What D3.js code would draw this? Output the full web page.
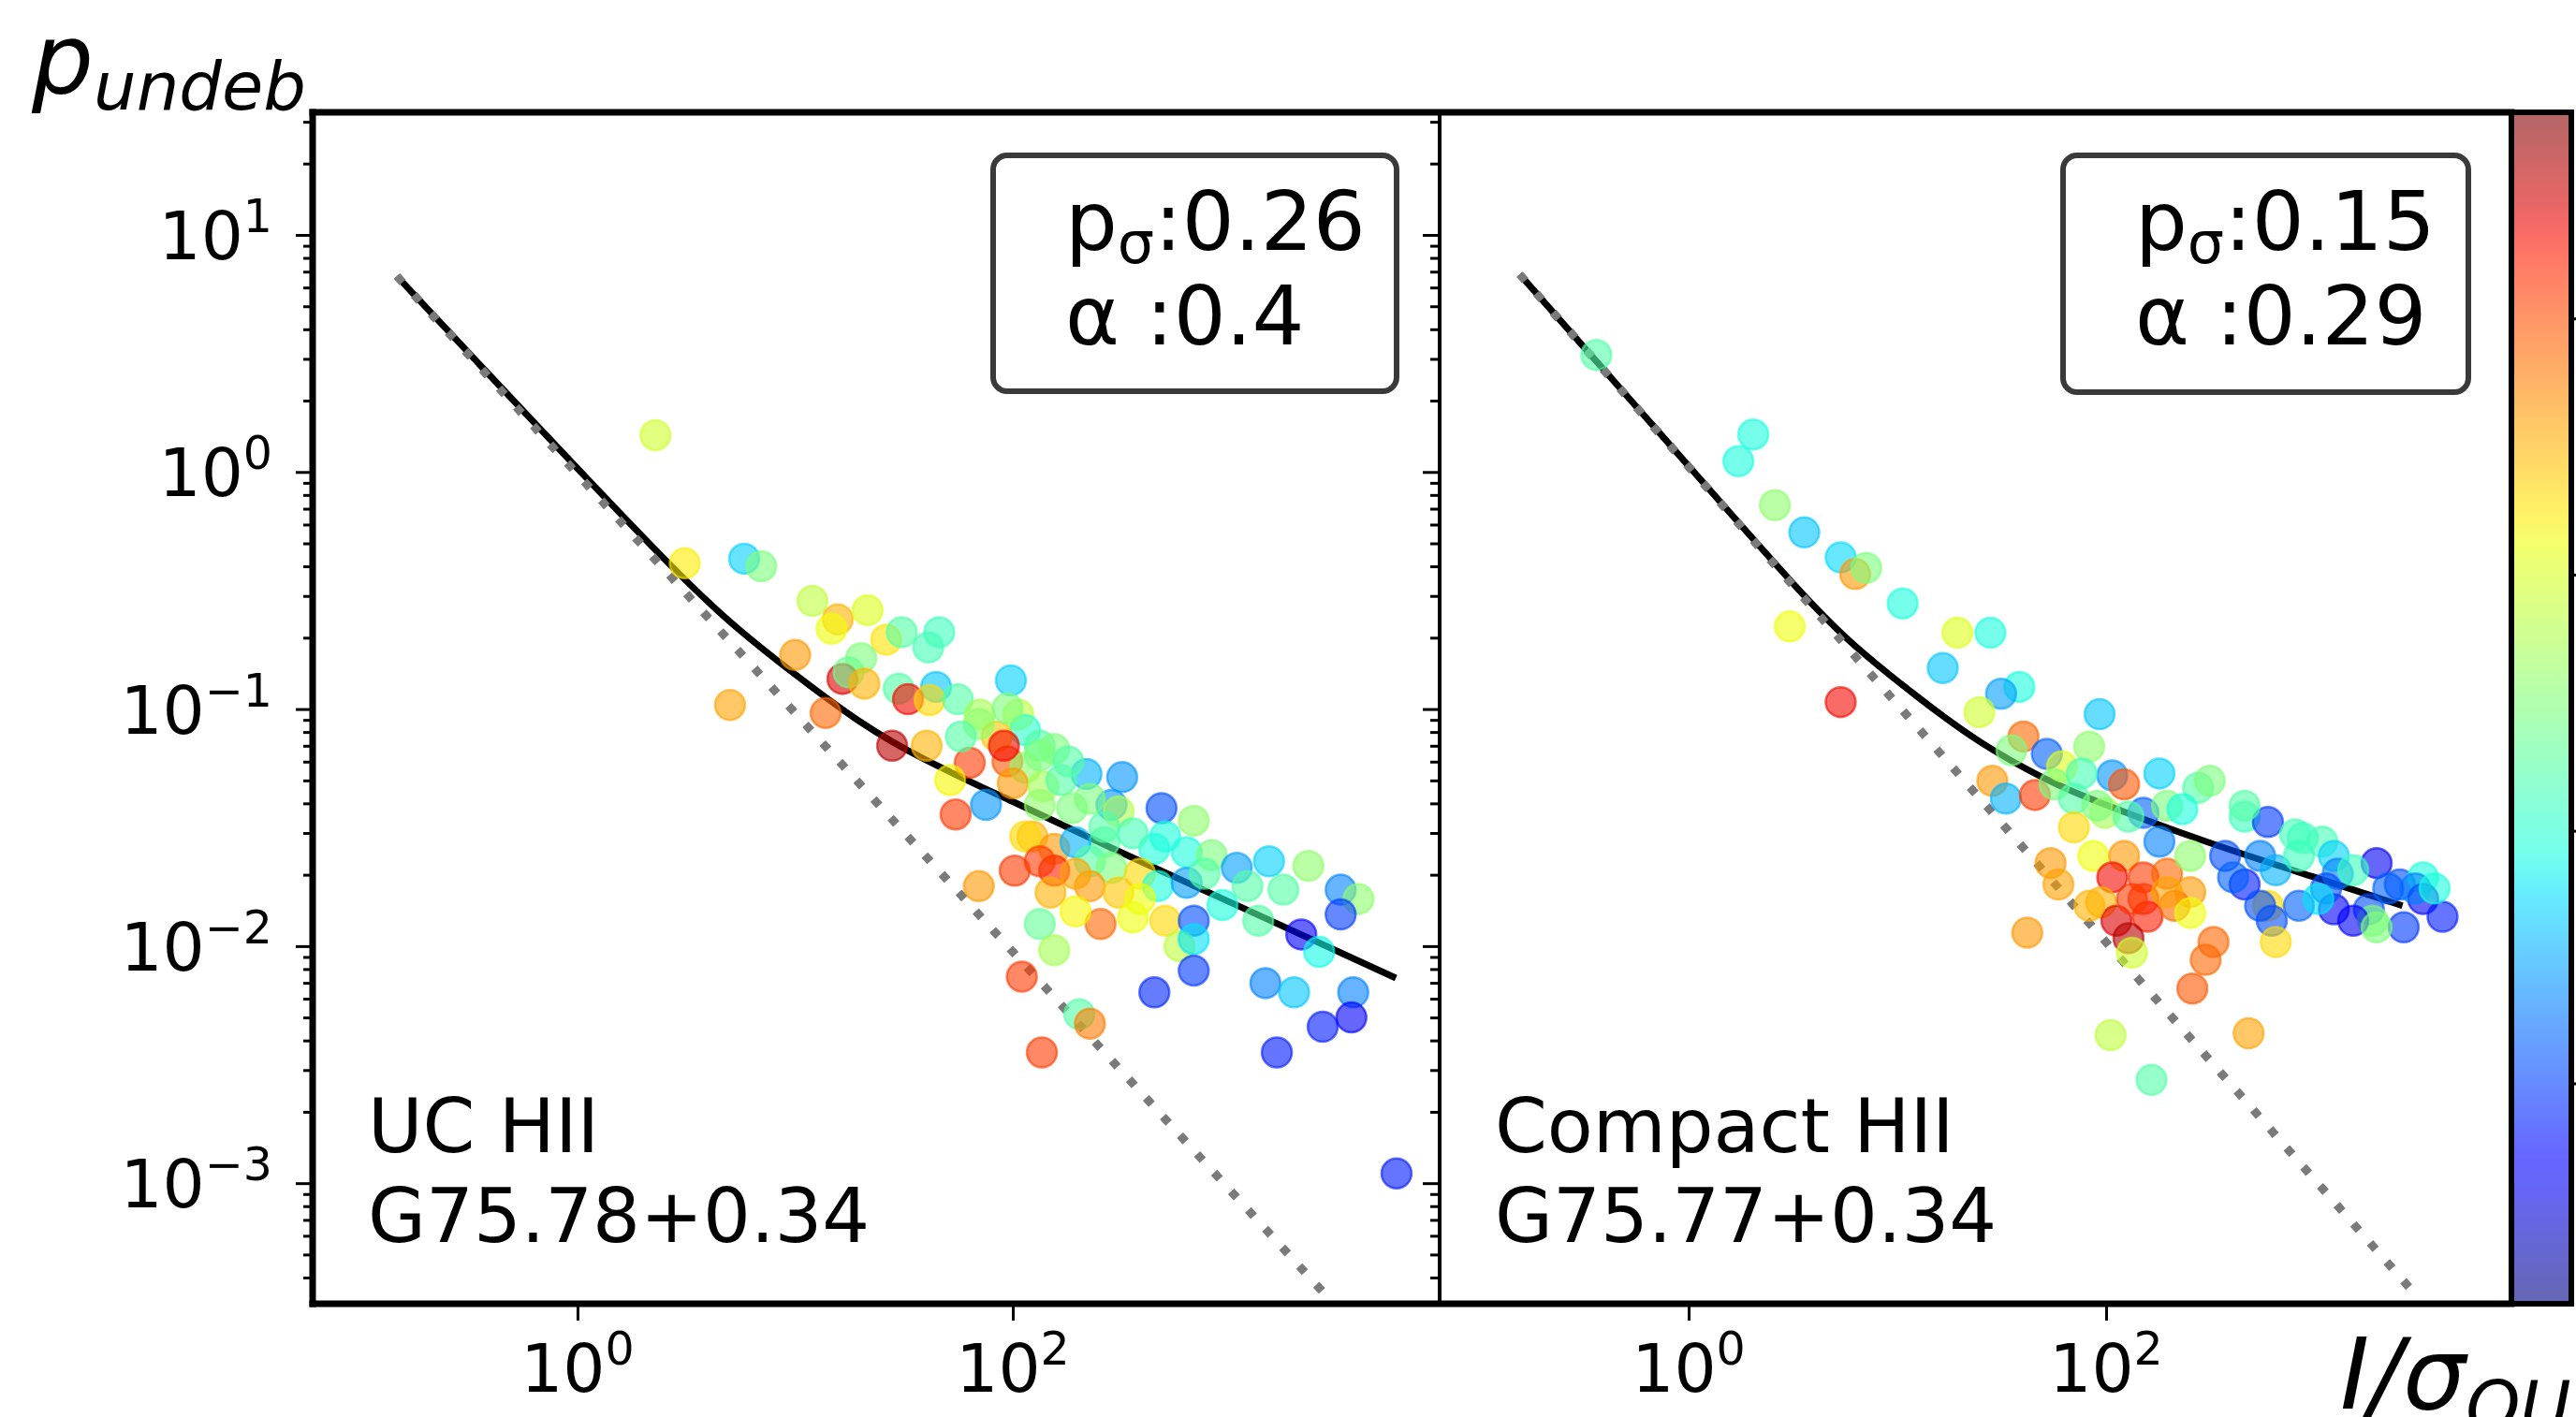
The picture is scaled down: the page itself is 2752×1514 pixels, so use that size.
<!DOCTYPE html>
<html lang="en">
<head>
<meta charset="UTF-8">
<title>p_undeb vs I/sigma_QU</title>
<script src="https://cdn.jsdelivr.net/npm/d3@7"></script>
<style>
  body { margin: 0; background: #fff; }
  text { font-family: "DejaVu Sans", sans-serif; fill: #000; }
</style>
</head>
<body>
<svg id="main" width="2752" height="1514"></svg>
<script>
// ---- data ----
// left panel: UC HII
const leftX = [2.28, 3.11, 5.83, 6.99, 12.0, 15.7, 14.7, 21.5, 26.2, 30.9, 45.9, 40.9, 10.0, 20.1, 16.5, 17.6, 20.8, 5.02, 13.8, 29.9,
  44.4, 33.0, 41.5, 55.9, 70.5, 27.9, 40.2, 98.0, 106, 114, 84.3, 63.4, 94.5, 133, 155, 114, 100, 138, 218, 318,
  167, 51.5, 75.3, 54.6, 284, 482, 187, 133, 678, 123, 155, 263, 194, 447, 629, 820, 1069, 1503, 2280, 102,
  155, 69.8, 226, 284, 384, 149, 226, 306, 464, 629, 1197, 1750, 3208, 3873, 919, 3208, 133, 253, 194, 356,
  501, 678, 1342, 2115, 2555, 155, 583, 678, 110, 678, 447, 1447, 1960, 3664, 202, 226, 2653, 3594, 136, 1633, 5792,
  91.0, 133, 180, 226, 306, 263, 114, 133, 194, 384, 356, 501, 760, 94.5, 69.8, 57.7];
const leftY = [1.43, 0.412, 0.431, 0.400, 0.286, 0.239, 0.218, 0.261, 0.196, 0.211, 0.211, 0.182, 0.169, 0.164, 0.134, 0.143, 0.128, 0.104, 0.0962, 0.122,
  0.124, 0.110, 0.109, 0.110, 0.0948, 0.0700, 0.0700, 0.132, 0.0948, 0.0815, 0.0766, 0.0593, 0.0601, 0.0700, 0.0679, 0.0566, 0.0486, 0.0472, 0.0532, 0.0516,
  0.0501, 0.0501, 0.0394, 0.0359, 0.0394, 0.0382, 0.0382, 0.0394, 0.0338, 0.0290, 0.0257, 0.0274, 0.0274, 0.0257, 0.0249, 0.0242, 0.0214, 0.0228, 0.0218, 0.0208,
  0.0208, 0.0179, 0.0228, 0.0214, 0.0202, 0.0168, 0.0179, 0.0168, 0.0179, 0.0185, 0.0179, 0.0173, 0.0173, 0.0158, 0.0149, 0.0136, 0.0124, 0.0124, 0.0140, 0.0132,
  0.0128, 0.0128, 0.0128, 0.0112, 0.00946, 0.00961, 0.0100, 0.0107, 0.00743, 0.00789, 0.00638, 0.00698, 0.00638, 0.00638, 0.00516, 0.00471, 0.00457, 0.00500, 0.00356, 0.00356, 0.00110,
  0.0700, 0.0638, 0.0601, 0.0418, 0.0370, 0.0318, 0.0290, 0.0228, 0.0202, 0.0158, 0.0299, 0.0290, 0.0202, 0.1007, 0.0865, 0.0766];
const leftC = [0.60, 0.66, 0.33, 0.50, 0.58, 0.72, 0.64, 0.62, 0.67, 0.45, 0.42, 0.43, 0.75, 0.50, 0.92, 0.48, 0.72, 0.74, 0.80, 0.45,
  0.32, 0.90, 0.68, 0.45, 0.55, 0.95, 0.72, 0.33, 0.58, 0.40, 0.70, 0.85, 0.82, 0.45, 0.50, 0.52, 0.75, 0.55, 0.30, 0.27,
  0.45, 0.65, 0.27, 0.85, 0.27, 0.20, 0.50, 0.52, 0.52, 0.72, 0.75, 0.45, 0.30, 0.38, 0.38, 0.50, 0.28, 0.33, 0.52, 0.85,
  0.88, 0.75, 0.45, 0.50, 0.68, 0.72, 0.75, 0.70, 0.38, 0.28, 0.45, 0.45, 0.25, 0.52, 0.38, 0.18, 0.47, 0.80, 0.65, 0.64,
  0.68, 0.20, 0.45, 0.12, 0.37, 0.55, 0.58, 0.35, 0.85, 0.18, 0.16, 0.25, 0.32, 0.25, 0.45, 0.78, 0.15, 0.12, 0.85, 0.15, 0.15,
  0.90, 0.50, 0.45, 0.50, 0.56, 0.45, 0.68, 0.85, 0.74, 0.64, 0.43, 0.38, 0.45, 0.50, 0.52, 0.45];

// right panel: Compact HII
const rightX = [0.361, 2.04, 1.73, 2.59, 3.58, 5.35, 6.28, 7.09, 10.6, 3.05, 19.4, 27.9, 16.5, 5.35, 38.4, 31.4, 24.7, 93.1, 40.2, 35.2,
  52.0, 83.0, 61.5, 28.5, 33.1, 45.6, 56.6, 70.1, 107, 122, 98.8, 151, 180, 196, 276, 314, 70.1, 86.8, 180, 122,
  107, 151, 196, 253, 54.2, 59.1, 94.6, 151, 158, 213, 112, 128, 133, 253, 327, 300, 259, 41.9, 105, 482,
  165, 372, 461, 596, 547, 650, 461, 805, 1086, 596, 622, 650, 839, 1234, 1288, 1234, 1132, 1977, 1815, 1892,
  2553, 3304, 2667, 3304, 4093, 3033, 406, 875,
  76.4, 90.6, 128, 232, 253, 196, 133, 83.2, 839, 1528, 2249, 3750, 1040, 547, 1528, 1977, 461];
const rightY = [3.12, 1.44, 1.11, 0.724, 0.556, 0.436, 0.371, 0.394, 0.279, 0.223, 0.210, 0.210, 0.149, 0.107, 0.124, 0.116, 0.0970, 0.0951, 0.0766, 0.0670,
  0.0647, 0.0694, 0.0573, 0.0498, 0.0419, 0.0434, 0.0481, 0.0419, 0.0525, 0.0481, 0.0365, 0.0365, 0.0535, 0.0391, 0.0465, 0.0498, 0.0317, 0.0240, 0.0276, 0.0240,
  0.0195, 0.0195, 0.0202, 0.0169, 0.0224, 0.0182, 0.0153, 0.0158, 0.0133, 0.0148, 0.0128, 0.0108, 0.00938, 0.0138, 0.0104, 0.00875, 0.00662, 0.0114, 0.00421, 0.00429,
  0.00273, 0.0240, 0.0352, 0.0334, 0.0240, 0.0209, 0.0182, 0.0296, 0.0276, 0.0148, 0.0128, 0.0104, 0.0148, 0.0240, 0.0202, 0.0143, 0.0175, 0.0224, 0.0143, 0.0128,
  0.0182, 0.0195, 0.0120, 0.0158, 0.0133, 0.0175, 0.0195, 0.0286,
  0.0535, 0.0391, 0.0352, 0.0378, 0.0240, 0.0169, 0.0158, 0.0148, 0.0240, 0.0209, 0.0175, 0.0175, 0.0158, 0.0148, 0.0128, 0.0120, 0.0391];
const rightC = [0.45, 0.38, 0.38, 0.52, 0.32, 0.34, 0.75, 0.50, 0.38, 0.64, 0.62, 0.38, 0.32, 0.90, 0.38, 0.28, 0.60, 0.32, 0.80, 0.50,
  0.22, 0.52, 0.62, 0.75, 0.30, 0.85, 0.50, 0.45, 0.27, 0.82, 0.55, 0.22, 0.33, 0.50, 0.45, 0.50, 0.68, 0.64, 0.25, 0.75,
  0.90, 0.85, 0.80, 0.75, 0.75, 0.74, 0.72, 0.85, 0.88, 0.80, 0.92, 0.95, 0.60, 0.64, 0.80, 0.80, 0.82, 0.75, 0.58, 0.74,
  0.45, 0.20, 0.42, 0.18, 0.25, 0.30, 0.15, 0.43, 0.43, 0.68, 0.20, 0.68, 0.22, 0.33, 0.25, 0.12, 0.20, 0.10, 0.20, 0.50,
  0.20, 0.38, 0.18, 0.10, 0.15, 0.25, 0.22, 0.42,
  0.43, 0.50, 0.45, 0.38, 0.52, 0.74, 0.85, 0.72, 0.42, 0.42, 0.22, 0.38, 0.35, 0.20, 0.12, 0.50, 0.45];

// fitted curves and the 1/x reference line
const leftFitX = [0.148, 0.398, 1.0, 2.51, 5.01, 10.0, 20.0, 39.8, 100, 316, 1000, 3162, 5754];
const leftFitY = [6.70, 2.54, 1.035, 0.429, 0.234, 0.140, 0.0881, 0.0610, 0.0407, 0.0248, 0.0153, 0.00944, 0.00733];
const rightFitX = [0.155, 0.398, 1.0, 3.16, 6.31, 12.6, 25.1, 50.1, 100, 316, 1000, 2630];
const rightFitY = [6.82, 2.66, 1.06, 0.339, 0.184, 0.112, 0.0724, 0.0513, 0.0394, 0.0272, 0.0195, 0.0148];
const leftRefX = [0.148, 3076], leftRefY = [6.70, 0.000300];
const rightRefX = [0.155, 2958], rightRefY = [6.82, 0.000348];

const labels = [['UC HII', 'G75.78+0.34'], ['Compact HII', 'G75.77+0.34']];
const pSigma = ['0.26', '0.15'];
const alphaFit = ['0.4', '0.29'];
const yTickExp = [1, 0, -1, -2, -3];
const xTickExp = [0, 2];
const cbarTicks = [0.185, 0.397, 0.612, 0.827];

// ---- drawing ----
const svg = d3.select('svg#main');
const plotTop = 120, plotBottom = 1393;
const cbX = 2683, cbW = 64;

const y = d3.scaleLog().domain([3.10e-4, 32.9]).range([plotBottom, plotTop]);

// matplotlib jet
const jr = d3.scaleLinear().domain([0, 0.35, 0.66, 0.89, 1]).range([0, 0, 1, 1, 0.5]).clamp(true);
const jg = d3.scaleLinear().domain([0, 0.125, 0.375, 0.64, 0.91, 1]).range([0, 0, 1, 1, 0, 0]).clamp(true);
const jb = d3.scaleLinear().domain([0, 0.11, 0.34, 0.65, 1]).range([0.5, 1, 1, 0, 0]).clamp(true);
const jet = v => d3.rgb(jr(v) * 255, jg(v) * 255, jb(v) * 255).formatHex();

const panels = [
  {x0: 334, x1: 1538, dom: [0.0607, 9140], px: leftX, py: leftY, pc: leftC,
   fx: leftFitX, fy: leftFitY, rx: leftRefX, ry: leftRefY, box: [1061, 166, 431, 252]},
  {x0: 1538, x1: cbX, dom: [0.0641, 8750], px: rightX, py: rightY, pc: rightC,
   fx: rightFitX, fy: rightFitY, rx: rightRefX, ry: rightRefY, box: [2204, 166, 433, 253]}
];

const defs = svg.append('defs');

function supLabel(g, x, yb, exp, anchor) {
  const t = g.append('text').attr('x', x).attr('y', yb)
    .attr('text-anchor', anchor).attr('font-size', 71);
  t.append('tspan').text('10');
  t.append('tspan').attr('dy', -29).attr('font-size', 49)
    .text(exp < 0 ? '\u2212' + (-exp) : String(exp));
}

const yMinor = y.ticks().filter(v => Math.abs(Math.log10(v) - Math.round(Math.log10(v))) > 1e-6);
const yMajor = yTickExp.map(e => Math.pow(10, e));

panels.forEach((p, i) => {
  const x = d3.scaleLog().domain(p.dom).range([p.x0, p.x1]);
  const g = svg.append('g');

  defs.append('clipPath').attr('id', 'clip' + i)
    .append('rect').attr('x', p.x0).attr('y', plotTop)
    .attr('width', p.x1 - p.x0).attr('height', plotBottom - plotTop);
  const plot = g.append('g').attr('clip-path', 'url(#clip' + i + ')');

  plot.append('path')
    .attr('d', d3.line().x(d => x(d[0])).y(d => y(d[1])).curve(d3.curveNatural)(d3.zip(p.fx, p.fy)))
    .attr('fill', 'none').attr('stroke', '#000').attr('stroke-width', 7);
  plot.append('path')
    .attr('d', d3.line().x(d => x(d[0])).y(d => y(d[1]))(d3.zip(p.rx, p.ry)))
    .attr('fill', 'none').attr('stroke', '#7a7a7a').attr('stroke-width', 9)
    .attr('stroke-dasharray', '9 18');

  plot.selectAll('circle').data(d3.range(p.px.length)).enter().append('circle')
    .attr('cx', k => x(p.px[k])).attr('cy', k => y(p.py[k])).attr('r', 16)
    .attr('fill', k => jet(p.pc[k])).attr('fill-opacity', 0.6)
    .attr('stroke', k => jet(p.pc[k])).attr('stroke-opacity', 0.6).attr('stroke-width', 2.5);

  // y ticks (pointing outward from the left spine)
  const yMaj = g.append('g').attr('transform', `translate(${p.x0},0)`)
    .call(d3.axisLeft(y).tickValues(yMajor).tickSize(18).tickFormat(''));
  const yMin = g.append('g').attr('transform', `translate(${p.x0},0)`)
    .call(d3.axisLeft(y).tickValues(yMinor).tickSize(10).tickFormat(''));
  const xAx = g.append('g').attr('transform', `translate(0,${plotBottom})`)
    .call(d3.axisBottom(x).tickValues(xTickExp.map(e => Math.pow(10, e))).tickSize(18).tickFormat(''));
  [yMaj, yMin, xAx].forEach(a => {
    a.select('.domain').remove();
    a.selectAll('line').attr('stroke', '#000').attr('stroke-width', 3);
  });

  xTickExp.forEach(e => supLabel(g, x(Math.pow(10, e)), 1487, e, 'middle'));
  if (i === 0) yTickExp.forEach(e => supLabel(g, 291, y(Math.pow(10, e)) + 26, e, 'end'));

  // source labels
  g.append('text').attr('x', p.x0 + 59).attr('y', 1231).attr('font-size', 80).text(labels[i][0]);
  g.append('text').attr('x', p.x0 + 59).attr('y', 1327).attr('font-size', 80).text(labels[i][1]);

  // fit parameter box
  const [bx, by, bw, bh] = p.box;
  g.append('rect').attr('x', bx).attr('y', by).attr('width', bw).attr('height', bh)
    .attr('rx', 15).attr('fill', '#fff').attr('stroke', '#3a3a3a').attr('stroke-width', 6);
  const t1 = g.append('text').attr('x', bx + 77).attr('y', by + 101).attr('font-size', 88);
  t1.append('tspan').text('p');
  t1.append('tspan').attr('dy', 14).attr('font-size', 62).text('\u03c3');
  t1.append('tspan').attr('dy', -14).text(':' + pSigma[i]);
  g.append('text').attr('x', bx + 77).attr('y', by + 202).attr('font-size', 88)
    .text('\u03b1 :' + alphaFit[i]);
});

// frame
const frame = svg.append('g').attr('stroke', '#000').attr('stroke-linecap', 'square');
frame.append('line').attr('x1', 334).attr('x2', cbX).attr('y1', plotTop).attr('y2', plotTop).attr('stroke-width', 7);
frame.append('line').attr('x1', 334).attr('x2', cbX).attr('y1', plotBottom).attr('y2', plotBottom).attr('stroke-width', 7);
frame.append('line').attr('x1', 334).attr('x2', 334).attr('y1', plotTop).attr('y2', plotBottom).attr('stroke-width', 7);
frame.append('line').attr('x1', 1538).attr('x2', 1538).attr('y1', plotTop).attr('y2', plotBottom).attr('stroke-width', 4);

// colour bar
const grad = defs.append('linearGradient').attr('id', 'jetGrad')
  .attr('x1', 0).attr('y1', 1).attr('x2', 0).attr('y2', 0);
d3.range(0, 1.0001, 0.02).forEach(t => grad.append('stop')
  .attr('offset', t).attr('stop-color', jet(t)).attr('stop-opacity', 0.6));
const cScale = d3.scaleLinear().domain([0, 1]).range([plotBottom, plotTop]);
svg.append('rect').attr('x', cbX).attr('y', plotTop).attr('width', cbW).attr('height', plotBottom - plotTop)
  .attr('fill', 'url(#jetGrad)').attr('stroke', '#000').attr('stroke-width', 6);
svg.append('g').attr('transform', `translate(${cbX + cbW},0)`)
  .call(d3.axisRight(cScale).tickValues(cbarTicks).tickSize(16).tickFormat(''))
  .call(a => a.select('.domain').remove())
  .selectAll('line').attr('stroke', '#000').attr('stroke-width', 3);

// axis labels
const yl = svg.append('text').attr('x', 34).attr('y', 100).attr('font-size', 104).attr('font-style', 'italic');
yl.append('tspan').text('p');
yl.append('tspan').attr('dy', 17).attr('font-size', 72).text('undeb');

const xl = svg.append('text').attr('x', 2500).attr('y', 1505).attr('font-size', 106).attr('font-style', 'italic');
xl.append('tspan').text('I/\u03c3');
xl.append('tspan').attr('dy', 24).attr('font-size', 74).text('QU');
</script>
</body>
</html>
